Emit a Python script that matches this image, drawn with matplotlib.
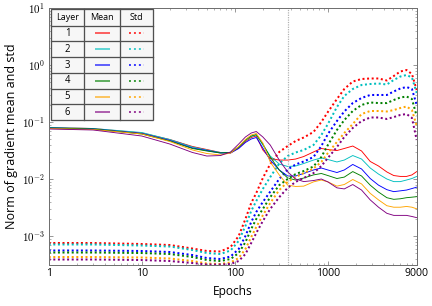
import matplotlib
matplotlib.use("Agg")
import matplotlib.pyplot as plt
from matplotlib.patches import Rectangle
from matplotlib.lines import Line2D

plt.rcParams['font.family'] = ['Open Sans', 'DejaVu Sans']
plt.rcParams['mathtext.fontset'] = 'cm'

epochs = [1, 3, 10, 20, 35, 50, 70, 90, 110, 130, 150, 170, 200, 240, 300, 370, 450,
          550, 700, 850, 1000, 1250, 1500, 1850, 2300, 2850, 3500, 4300, 5100, 6000,
          7000, 8000, 9000]

layers = ['1', '2', '3', '4', '5', '6']
colors = ['#ff0000', '#00bfbf', '#0000ff', '#008000', '#ffa500', '#800080']

mean_l1 = [0.0801, 0.0769, 0.0641, 0.0493, 0.0372, 0.0329, 0.0292, 0.0286, 0.0350, 0.0455,
           0.0535, 0.0568, 0.0323, 0.0229, 0.0215, 0.0215, 0.0224, 0.0248, 0.0298, 0.0343,
           0.0329, 0.0316, 0.0343, 0.0379, 0.0310, 0.0203, 0.0169, 0.0133, 0.0115, 0.0111,
           0.0111, 0.0118, 0.0135]
mean_l2 = [0.0801, 0.0769, 0.0654, 0.0493, 0.0364, 0.0323, 0.0292, 0.0292, 0.0364, 0.0474,
           0.0557, 0.0591, 0.0395, 0.0253, 0.0183, 0.0166, 0.0169, 0.0187, 0.0215, 0.0234,
           0.0220, 0.0199, 0.0215, 0.0258, 0.0224, 0.0156, 0.0122, 0.0100, 0.0090, 0.0090,
           0.0096, 0.0102, 0.0111]
mean_l3 = [0.0785, 0.0754, 0.0628, 0.0474, 0.0350, 0.0316, 0.0286, 0.0286, 0.0343, 0.0437,
           0.0503, 0.0535, 0.0350, 0.0215, 0.0144, 0.0113, 0.0113, 0.0125, 0.0144, 0.0156,
           0.0144, 0.0130, 0.0144, 0.0180, 0.0150, 0.0102, 0.0078, 0.0065, 0.0060, 0.0062,
           0.0064, 0.0068, 0.0072]
mean_l4 = [0.0785, 0.0754, 0.0616, 0.0464, 0.0343, 0.0310, 0.0286, 0.0292, 0.0364, 0.0483,
           0.0568, 0.0603, 0.0411, 0.0243, 0.0144, 0.0104, 0.0096, 0.0104, 0.0118, 0.0125,
           0.0115, 0.0102, 0.0108, 0.0135, 0.0113, 0.0078, 0.0059, 0.0047, 0.0044, 0.0045,
           0.0047, 0.0048, 0.0049]
mean_l5 = [0.0769, 0.0739, 0.0616, 0.0455, 0.0323, 0.0280, 0.0264, 0.0286, 0.0372, 0.0493,
           0.0591, 0.0628, 0.0428, 0.0199, 0.0118, 0.0078, 0.0074, 0.0075, 0.0089, 0.0096,
           0.0089, 0.0075, 0.0080, 0.0098, 0.0082, 0.0056, 0.0043, 0.0034, 0.0032, 0.0032,
           0.0033, 0.0032, 0.0030]
mean_l6 = [0.0754, 0.0724, 0.0568, 0.0411, 0.0292, 0.0253, 0.0258, 0.0298, 0.0411, 0.0546,
           0.0641, 0.0681, 0.0546, 0.0395, 0.0215, 0.0133, 0.0100, 0.0090, 0.0094, 0.0100,
           0.0089, 0.0070, 0.0067, 0.0080, 0.0064, 0.0043, 0.0032, 0.0025, 0.0023, 0.0023,
           0.0023, 0.0022, 0.0021]

std_l1 = [7.54e-4, 7.54e-4, 7.24e-4, 6.95e-4, 6.03e-4, 5.46e-4, 5.35e-4, 6.41e-4, 1.00e-3,
          1.99e-3, 3.79e-3, 5.68e-3, 0.0104, 0.0183, 0.0298, 0.0379, 0.0464, 0.0535, 0.0668,
          0.100, 0.150, 0.253, 0.379, 0.513, 0.568, 0.580, 0.580, 0.535, 0.641, 0.769, 0.817,
          0.695, 0.364]
std_l2 = [7.10e-4, 7.10e-4, 6.81e-4, 6.54e-4, 5.68e-4, 5.03e-4, 4.83e-4, 5.57e-4, 8.2e-4,
          1.50e-3, 2.75e-3, 4.11e-3, 6.7e-3, 0.0108, 0.0187, 0.0253, 0.0292, 0.0323, 0.0395,
          0.0591, 0.0922, 0.183, 0.286, 0.379, 0.446, 0.464, 0.473, 0.455, 0.546, 0.628,
          0.668, 0.603, 0.323]
std_l3 = [5.57e-4, 5.57e-4, 5.46e-4, 5.24e-4, 4.64e-4, 4.11e-4, 3.95e-4, 4.37e-4, 5.91e-4,
          1.00e-3, 1.76e-3, 2.64e-3, 3.95e-3, 6.0e-3, 0.0100, 0.0147, 0.0180, 0.0203, 0.0243,
          0.0379, 0.0616, 0.104, 0.153, 0.215, 0.264, 0.298, 0.298, 0.298, 0.343, 0.387,
          0.411, 0.379, 0.199]
std_l4 = [5.13e-4, 5.13e-4, 5.03e-4, 4.83e-4, 4.28e-4, 3.79e-4, 3.64e-4, 3.95e-4, 5.03e-4,
          7.8e-4, 1.33e-3, 1.99e-3, 2.98e-3, 4.8e-3, 7.8e-3, 0.0100, 0.0122, 0.0138, 0.0166,
          0.0243, 0.0395, 0.0724, 0.108, 0.156, 0.199, 0.220, 0.215, 0.215, 0.243, 0.269,
          0.280, 0.253, 0.127]
std_l5 = [4.28e-4, 4.28e-4, 4.20e-4, 4.03e-4, 3.64e-4, 3.29e-4, 3.23e-4, 3.43e-4, 4.11e-4,
          5.91e-4, 9.6e-4, 1.44e-3, 2.31e-3, 3.79e-3, 6.4e-3, 8.9e-3, 0.0108, 0.0127, 0.0153,
          0.0199, 0.0286, 0.0446, 0.0641, 0.0922, 0.138, 0.156, 0.156, 0.153, 0.162, 0.176,
          0.187, 0.162, 0.0851]
std_l6 = [3.87e-4, 3.87e-4, 3.79e-4, 3.64e-4, 3.36e-4, 3.16e-4, 3.16e-4, 3.23e-4, 3.64e-4,
          4.83e-4, 7.54e-4, 1.13e-3, 1.83e-3, 2.98e-3, 4.8e-3, 7.0e-3, 8.9e-3, 0.0104, 0.0127,
          0.0169, 0.0234, 0.0364, 0.0546, 0.0785, 0.104, 0.120, 0.120, 0.113, 0.122, 0.133,
          0.138, 0.118, 0.0483]

means = [mean_l1, mean_l2, mean_l3, mean_l4, mean_l5, mean_l6]
stds = [std_l1, std_l2, std_l3, std_l4, std_l5, std_l6]

marker_epoch = 370
xticks = [1, 10, 100, 1000, 9000]
xtick_labels = ['1', '10', '100', '1000', '9000']
yticks = [1e-3, 1e-2, 1e-1, 1e0, 1e1]
ytick_labels = [r'$10^{-3}$', r'$10^{-2}$', r'$10^{-1}$', r'$10^{0}$', r'$10^{1}$']

W, H = 432, 306
fig = plt.figure(figsize=(W / 72, H / 72), dpi=72)
L, R, T, B = 48.7, 416.7, 8, 265
ax = fig.add_axes([L / W, 1 - B / H, (R - L) / W, (B - T) / H])

for m, s, c in zip(means, stds, colors):
    ax.plot(epochs, m, color=c, lw=0.9, solid_capstyle='round')
    ax.plot(epochs, s, color=c, lw=2.0, linestyle=(0, (1, 1.3)))

ax.axvline(marker_epoch, color='#b0b0b0', lw=1.2, linestyle=(0, (1, 1)))

ax.set_xscale('log')
ax.set_yscale('log')
ax.set_xlim(1, 9000)
ax.set_ylim(3.1e-4, 10)
ax.set_xticks(xticks)
ax.set_xticklabels(xtick_labels, fontsize=10.5)
ax.set_yticks(yticks)
ax.set_yticklabels(ytick_labels, fontsize=11)
ax.tick_params(which='both', direction='in', top=True, right=True, color='#808080')
ax.tick_params(which='major', length=4, width=0.8)
ax.tick_params(which='minor', length=2, width=0.6)
for sp in ax.spines.values():
    sp.set_color('#707070')
    sp.set_linewidth(1.0)

ax.set_xlabel('Epochs', fontsize=12, labelpad=5)
ax.set_ylabel('Norm of gradient mean and std', fontsize=12.5, labelpad=4)

# table-style legend (pixel layout converted to axes fraction)
def ax_x(px):
    return (px - L) / (R - L)

def ax_y(py):
    return 1 - (py - T) / (B - T)

col_edges = [50.5, 84.3, 119.7, 153.3]
row_edges = [9.3, 25.5, 41.3, 57.3, 73.0, 88.7, 104.3, 120.3]
tr = ax.transAxes
ax.add_patch(Rectangle((ax_x(col_edges[0]), ax_y(row_edges[-1])),
                       ax_x(col_edges[-1]) - ax_x(col_edges[0]),
                       ax_y(row_edges[0]) - ax_y(row_edges[-1]),
                       transform=tr, facecolor='#f7f7f7', edgecolor='#505050',
                       lw=1.3, zorder=5))
for xe in col_edges[1:-1]:
    ax.add_line(Line2D([ax_x(xe)] * 2, [ax_y(row_edges[0]), ax_y(row_edges[-1])],
                       transform=tr, color='#505050', lw=1.3, zorder=6))
for ye in row_edges[1:-1]:
    ax.add_line(Line2D([ax_x(col_edges[0]), ax_x(col_edges[-1])], [ax_y(ye)] * 2,
                       transform=tr, color='#505050', lw=1.3, zorder=6))

headers = ['Layer', 'Mean', 'Std']
for j, h in enumerate(headers):
    cx = ax_x((col_edges[j] + col_edges[j + 1]) / 2)
    cy = ax_y((row_edges[0] + row_edges[1]) / 2)
    ax.text(cx, cy, h, transform=tr, ha='center', va='center', fontsize=9, zorder=7)
for i, (lab, c) in enumerate(zip(layers, colors)):
    cy = ax_y((row_edges[i + 1] + row_edges[i + 2]) / 2)
    cx = ax_x((col_edges[0] + col_edges[1]) / 2)
    ax.text(cx, cy, lab, transform=tr, ha='center', va='center', fontsize=9.5, zorder=7)
    ax.add_line(Line2D([ax_x(95), ax_x(110)], [cy, cy], transform=tr, color=c,
                       lw=1.5, alpha=0.8, solid_capstyle='butt', zorder=7))
    ax.add_line(Line2D([ax_x(129), ax_x(144)], [cy, cy], transform=tr, color=c,
                       lw=1.5, linestyle=(0, (1.3, 2)), zorder=7))

fig.savefig('out.png', dpi=72)
